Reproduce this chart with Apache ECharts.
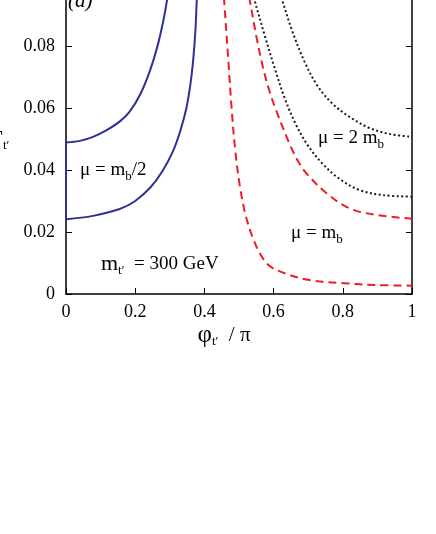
<!DOCTYPE html>
<html>
<head>
<meta charset="utf-8">
<script src="https://cdn.jsdelivr.net/npm/echarts@6/dist/echarts.min.js"></script>
<style>
  html, body { margin: 0; padding: 0; background: #fff; }
  #chart { width: 436px; height: 534px; }
</style>
</head>
<body>
<div id="chart"></div>
<script>
// phi / pi, value pairs
// mu = mb/2 : upper and lower branch, joined at phi = 0
const halfUpper = [
  [0.0, 0.0489], [0.040, 0.0494], [0.078, 0.0507], [0.115, 0.0527], [0.155, 0.0556],
  [0.184, 0.0588], [0.215, 0.0645], [0.242, 0.0718], [0.264, 0.0798], [0.281, 0.0880],
  [0.292, 0.0948], [0.300, 0.100]
]
const halfLower = [
  [0.0, 0.0241], [0.078, 0.0252], [0.155, 0.0274], [0.200, 0.0300], [0.245, 0.0345],
  [0.278, 0.0395], [0.309, 0.0460], [0.330, 0.0525], [0.348, 0.0600], [0.360, 0.0680],
  [0.368, 0.0760], [0.374, 0.0850], [0.378, 0.0948], [0.381, 0.100]
]
const halfJoin = [[0.0, 0.0241], [0.0, 0.0489]]
// mu = mb
const mbLeft = [
  [0.454, 0.100], [0.457, 0.0948], [0.469, 0.0755], [0.479, 0.0594], [0.489, 0.0465],
  [0.502, 0.0352], [0.519, 0.0255], [0.540, 0.0181], [0.563, 0.0126], [0.589, 0.0090],
  [0.637, 0.0065], [0.704, 0.0045], [0.801, 0.0035], [0.897, 0.0029], [1.0, 0.0027]
]
const mbRight = [
  [0.522, 0.100], [0.531, 0.0948], [0.550, 0.0832], [0.569, 0.0732], [0.588, 0.0655],
  [0.608, 0.0590], [0.647, 0.0482], [0.670, 0.0430], [0.695, 0.0389], [0.753, 0.0325],
  [0.820, 0.0276], [0.897, 0.0255], [1.0, 0.0243]
]
// mu = 2 mb
const twoLower = [
  [0.533, 0.100], [0.545, 0.0948], [0.574, 0.0835], [0.603, 0.0729], [0.632, 0.0632],
  [0.664, 0.0548], [0.698, 0.0481], [0.739, 0.0423], [0.791, 0.0371], [0.849, 0.0335],
  [0.915, 0.0319], [1.0, 0.0314]
]
const twoUpper = [
  [0.613, 0.100], [0.625, 0.0948], [0.655, 0.0845], [0.690, 0.0748], [0.727, 0.0671],
  [0.771, 0.0613], [0.820, 0.0571], [0.878, 0.0535], [0.936, 0.0516], [1.0, 0.0507]
]

const serif = '"Liberation Serif", "DejaVu Serif", serif'
const blue = '#2e3192'
const red = '#ee1c25'
const black = '#1a1a1a'

function fmtX(v) { return v === 0 ? '0' : v === 1 ? '1' : String(+v.toFixed(1)) }
function fmtY(v) { return v === 0 ? '0' : v.toFixed(2) }

const richBase = {
  n: { fontFamily: serif, fontSize: 19, color: '#000', lineHeight: 26, verticalAlign: 'middle' },
  s: { fontFamily: serif, fontSize: 13, color: '#000', lineHeight: 26, verticalAlign: 'bottom' },
  big: { fontFamily: serif, fontSize: 22, color: '#000', lineHeight: 26, verticalAlign: 'middle' },
  ax: { fontFamily: serif, fontSize: 21, color: '#000', lineHeight: 26, verticalAlign: 'middle' },
  axb: { fontFamily: serif, fontSize: 25, color: '#000', lineHeight: 26, verticalAlign: 'middle' }
}

function label(x, y, text, align) {
  return {
    type: 'text',
    x: x,
    y: y,
    style: {
      text: text,
      rich: richBase,
      align: align || 'left',
      verticalAlign: 'middle'
    }
  }
}

function line(data, color, type) {
  return {
    type: 'line',
    data: data,
    showSymbol: false,
    smooth: 0.35,
    clip: true,
    lineStyle: { color: color, width: 2, type: type }
  }
}

const chart = echarts.init(document.getElementById('chart'))
chart.setOption({
  animation: false,
  grid: { left: 66, right: 24, top: -16, bottom: 240, outerBoundsMode: 'none', containLabel: false },
  xAxis: {
    type: 'value',
    min: 0,
    max: 1,
    interval: 0.2,
    axisLine: { lineStyle: { color: '#000', width: 1.5 } },
    axisTick: { inside: true, length: 6, lineStyle: { color: '#000' } },
    axisLabel: { color: '#000', fontFamily: serif, fontSize: 18, margin: 9, formatter: fmtX },
    splitLine: { show: false }
  },
  yAxis: [
    {
      type: 'value',
      min: 0,
      max: 0.1,
      interval: 0.02,
      axisLine: { show: true, lineStyle: { color: '#000', width: 1.5 } },
      axisTick: { show: true, inside: true, length: 6, lineStyle: { color: '#000' } },
      axisLabel: { color: '#000', fontFamily: serif, fontSize: 18, margin: 11, formatter: fmtY },
      splitLine: { show: false }
    },
    {
      type: 'value',
      position: 'right',
      min: 0,
      max: 0.1,
      interval: 0.02,
      axisLine: { show: true, lineStyle: { color: '#000', width: 1.5 } },
      axisTick: { show: true, inside: true, length: 6, lineStyle: { color: '#000' } },
      axisLabel: { show: false },
      splitLine: { show: false }
    }
  ],
  series: [
    line(halfUpper, blue, 'solid'),
    line(halfLower, blue, 'solid'),
    line(halfJoin, blue, 'solid'),
    line(mbLeft, red, [8, 5]),
    line(mbRight, red, [8, 5]),
    line(twoLower, black, [2, 2.5]),
    line(twoUpper, black, [2, 2.5])
  ],
  graphic: [
    {
      type: 'text', x: 68, y: 1,
      style: { text: '(a)', font: 'italic 21px ' + serif, fill: '#000', verticalAlign: 'middle' }
    },
    label(80, 170, '{n|μ = m}{s|b}{n|/2}'),
    label(101, 264, '{big|m}{s|t′}{n|  = 300 GeV}'),
    label(291, 233, '{n|μ = m}{s|b}'),
    label(318, 138, '{n|μ = 2 m}{s|b}'),
    label(3, 139, '{big|Γ}', 'right'),
    label(3, 139, '{s|t′}'),
    {
      type: 'text', x: 224, y: 335,
      style: {
        text: '{axb|φ}{s|t′}{ax|  / π}',
        rich: richBase,
        align: 'center',
        verticalAlign: 'middle'
      }
    }
  ]
})
</script>
</body>
</html>
